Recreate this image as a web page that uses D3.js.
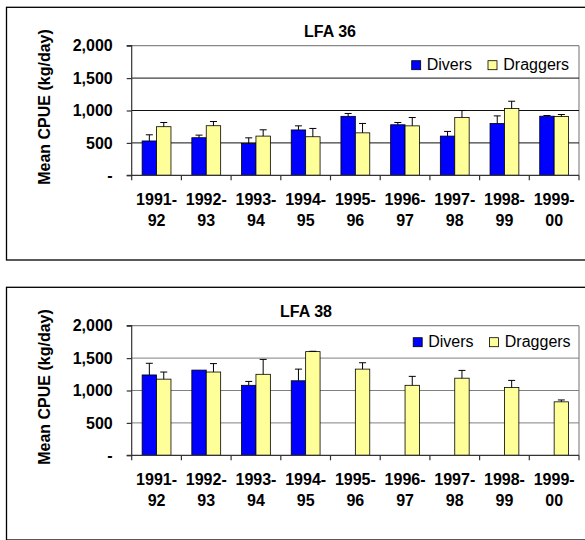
<!DOCTYPE html>
<html>
<head>
<meta charset="utf-8">
<script src="https://cdn.jsdelivr.net/npm/d3@7"></script>
<style>
  html, body { margin: 0; padding: 0; background: #fff; }
  svg { display: block; }
  text { font-family: "Liberation Sans", Arial, sans-serif; }
</style>
</head>
<body>
<svg id="chart" width="585" height="540"></svg>
<script>
// ---- data ----
const categories = ["1991-92", "1992-93", "1993-94", "1994-95", "1995-96", "1996-97", "1997-98", "1998-99", "1999-00"];
const seriesNames = ["Divers", "Draggers"];
const yTicks = [0, 500, 1000, 1500, 2000];
const yTickLabels = ["-", "500", "1,000", "1,500", "2,000"];

const lfa36Divers      = [530, 580, 490, 700, 910, 780, 605, 800, 912];
const lfa36DiversErr   = [95, 40, 88, 63, 44, 35, 72, 117, 11];
const lfa36Draggers    = [750, 765, 605, 595, 655, 763, 892, 1031, 907];
const lfa36DraggersErr = [65, 65, 97, 128, 145, 129, 108, 112, 31];

const lfa38Divers      = [1240, 1315, 1080, 1150, null, null, null, null, null];
const lfa38DiversErr   = [180, 0, 60, 180, null, null, null, null, null];
const lfa38Draggers    = [1175, 1285, 1250, 1600, 1330, 1080, 1190, 1045, 825];
const lfa38DraggersErr = [110, 130, 230, 5, 98, 138, 120, 111, 29];

const charts = [
  { title: "LFA 36", divers: lfa36Divers, diversErr: lfa36DiversErr, draggers: lfa36Draggers, draggersErr: lfa36DraggersErr,
    offsetY: 0, titleX: 330, gridColor: "#111", legendDx: 0, legendDy: 0 },
  { title: "LFA 38", divers: lfa38Divers, diversErr: lfa38DiversErr, draggers: lfa38Draggers, draggersErr: lfa38DraggersErr,
    offsetY: 280, titleX: 306, gridColor: "#808080", legendDx: 1.5, legendDy: -3 }
];

const colors = { Divers: "#0000FF", Draggers: "#FFFF99" };

// ---- layout ----
const plotL = 131.7, plotR = 579, plotT = 45.7, plotB = 175.3;
const svg = d3.select("#chart");

charts.forEach(c => {
  const g = svg.append("g").attr("transform", `translate(0,${c.offsetY})`);

  // outer frame
  g.append("rect").attr("x", 6.5).attr("y", 7.3).attr("width", 640).attr("height", 252.7)
    .attr("fill", "#fff").attr("stroke", "#000").attr("stroke-width", 1.3);

  const x = d3.scaleBand().domain(categories).range([plotL, plotR]).padding(0);
  const y = d3.scaleLinear().domain([0, 2000]).range([plotB, plotT]);
  const bw = x.bandwidth() * 0.29;

  // plot area border (top & right, gray)
  g.append("line").attr("x1", plotL).attr("x2", plotR).attr("y1", y(2000)).attr("y2", y(2000))
    .attr("stroke", "#888").attr("stroke-width", 1.2);
  g.append("line").attr("x1", plotR).attr("x2", plotR).attr("y1", y(2000)).attr("y2", y(0))
    .attr("stroke", "#888").attr("stroke-width", 1.2);

  // gridlines
  g.selectAll(".grid").data(yTicks.filter(t => t > 0 && t < 2000)).enter().append("line")
    .attr("x1", plotL).attr("x2", plotR).attr("y1", d => y(d)).attr("y2", d => y(d))
    .attr("stroke", c.gridColor).attr("stroke-width", 1);

  // bars
  const series = [
    { name: "Divers", vals: c.divers, errs: c.diversErr, dx: -bw },
    { name: "Draggers", vals: c.draggers, errs: c.draggersErr, dx: 0 }
  ];
  series.forEach(s => {
    categories.forEach((cat, i) => {
      const v = s.vals[i];
      if (v == null) return;
      const cx = x(cat) + x.bandwidth() / 2 + s.dx;
      g.append("rect").attr("x", cx).attr("y", y(v)).attr("width", bw).attr("height", y(0) - y(v))
        .attr("fill", colors[s.name]).attr("stroke", "#000").attr("stroke-width", 0.8);
      const e = s.errs[i];
      if (e != null && e > 0) {
        const mx = cx + bw / 2;
        g.append("line").attr("x1", mx).attr("x2", mx).attr("y1", y(v)).attr("y2", y(v + e))
          .attr("stroke", "#000").attr("stroke-width", 1);
        g.append("line").attr("x1", mx - 3.5).attr("x2", mx + 3.5).attr("y1", y(v + e)).attr("y2", y(v + e))
          .attr("stroke", "#000").attr("stroke-width", 1);
      }
    });
  });

  // y axis
  const yAxis = d3.axisLeft(y).tickValues(yTicks).tickSize(5).tickFormat((d, i) => yTickLabels[i]);
  const ya = g.append("g").attr("transform", `translate(${plotL},0)`).call(yAxis);
  ya.select(".domain").attr("stroke", "#333").attr("stroke-width", 1.2).attr("d", `M-5,${plotT}H0V${plotB}`);
  ya.selectAll(".tick line").attr("stroke", "#333").attr("stroke-width", 1.2);
  ya.selectAll(".tick text").attr("x", -19).attr("font-size", 16).attr("font-weight", "bold")
    .attr("fill", "#000").attr("font-family", "'Liberation Sans', Arial, sans-serif");

  // x axis
  const xa = g.append("g").attr("transform", `translate(0,${plotB})`);
  xa.append("line").attr("x1", plotL - 5).attr("x2", plotR).attr("y1", 0).attr("y2", 0)
    .attr("stroke", "#333").attr("stroke-width", 1.2);
  const bounds = categories.map(cat => x(cat)).concat([plotR]);
  xa.selectAll(".xt").data(bounds).enter().append("line")
    .attr("x1", d => d).attr("x2", d => d).attr("y1", 0).attr("y2", 5)
    .attr("stroke", "#333").attr("stroke-width", 1.2);
  categories.forEach(cat => {
    const parts = cat.split("-");
    const t = xa.append("text").attr("text-anchor", "middle").attr("font-size", 16).attr("font-weight", "bold")
      .attr("x", x(cat) + x.bandwidth() / 2);
    t.append("tspan").attr("x", x(cat) + x.bandwidth() / 2).attr("y", 29.7).text(parts[0] + "-");
    t.append("tspan").attr("x", x(cat) + x.bandwidth() / 2).attr("y", 51).text(parts[1]);
  });

  // y axis title
  g.append("text").attr("transform", "translate(44,107) rotate(-90)").attr("text-anchor", "middle")
    .attr("dy", "0.35em").attr("font-size", 16).attr("font-weight", "bold").text("Mean CPUE (kg/day)");

  // chart title
  g.append("text").attr("x", c.titleX).attr("y", 37).attr("text-anchor", "middle")
    .attr("font-size", 16).attr("font-weight", "bold").text(c.title);

  // legend
  const lg = g.append("g").attr("transform", `translate(${c.legendDx},${c.legendDy})`);
  const legendPos = [{ sx: 411.7, tx: 426.7 }, { sx: 488, tx: 503.3 }];
  seriesNames.forEach((n, i) => {
    lg.append("rect").attr("x", legendPos[i].sx).attr("y", 60.7).attr("width", 9).attr("height", 9)
      .attr("fill", colors[n]).attr("stroke", "#000").attr("stroke-width", 0.8);
    lg.append("text").attr("x", legendPos[i].tx).attr("y", 70).attr("font-size", 16).text(n);
  });
});
</script>
</body>
</html>
